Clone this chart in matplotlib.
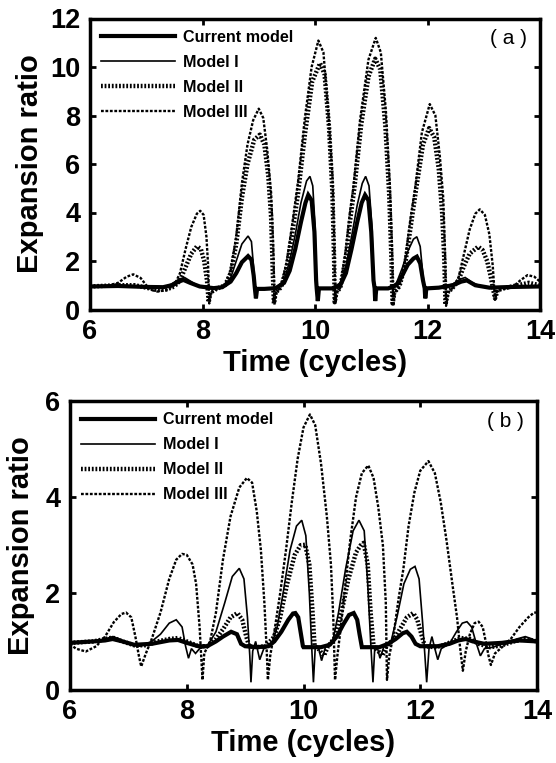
import matplotlib
matplotlib.use("Agg")
import matplotlib.pyplot as plt

plt.rcParams['font.family'] = ['Liberation Sans', 'DejaVu Sans']
plt.rcParams['lines.scale_dashes'] = False

# ---------------- Panel (a) data ----------------
a_cur_t = [6.0, 6.5, 7.0, 7.3, 7.45, 7.58, 7.66, 7.78, 7.95, 8.2, 8.35, 8.5, 8.6, 8.7, 8.81, 8.87, 8.91, 8.93, 8.95, 8.97,
           9.1, 9.3, 9.45, 9.55, 9.65, 9.75, 9.83, 9.88, 9.94, 9.99, 10.02, 10.03, 10.05, 10.07, 10.3, 10.45, 10.55, 10.65,
           10.75, 10.83, 10.89, 10.95, 11.0, 11.04, 11.06, 11.07, 11.09, 11.3, 11.45, 11.55, 11.65, 11.75, 11.81, 11.87,
           11.92, 11.95, 11.96, 11.98, 12.2, 12.45, 12.6, 12.7, 12.85, 13.1, 13.5, 14.0]
a_cur_v = [0.95, 0.97, 0.93, 0.92, 1.0, 1.15, 1.22, 1.1, 0.95, 0.88, 0.92, 1.15, 1.5, 1.95, 2.2, 2.05, 1.4, 0.9, 0.46, 0.85,
           0.85, 0.88, 1.1, 1.6, 2.5, 3.6, 4.4, 4.72, 4.5, 3.2, 1.2, 0.87, 0.35, 0.87, 0.87, 1.0, 1.5, 2.5,
           3.6, 4.4, 4.72, 4.5, 3.2, 1.2, 0.87, 0.35, 0.87, 0.87, 1.0, 1.4, 1.85, 2.1, 2.18, 1.9,
           1.2, 0.87, 0.46, 0.87, 0.9, 1.0, 1.15, 1.2, 1.0, 0.9, 0.93, 0.95]

a_m1_t = [6.0, 6.5, 7.0, 7.3, 7.45, 7.58, 7.68, 7.8, 7.95, 8.2, 8.35, 8.5, 8.6, 8.7, 8.81, 8.87, 8.91, 8.93, 8.95, 8.97,
          9.1, 9.3, 9.45, 9.55, 9.65, 9.75, 9.85, 9.91, 9.96, 10.0, 10.02, 10.03, 10.05, 10.07, 10.3, 10.45, 10.55, 10.65,
          10.75, 10.84, 10.9, 10.96, 11.01, 11.04, 11.06, 11.07, 11.09, 11.3, 11.45, 11.55, 11.65, 11.75, 11.81, 11.87,
          11.92, 11.95, 11.96, 11.98, 12.2, 12.45, 12.58, 12.67, 12.8, 13.0, 13.5, 14.0]
a_m1_v = [0.95, 0.98, 0.92, 0.9, 1.05, 1.25, 1.32, 1.15, 0.93, 0.85, 0.92, 1.3, 2.0, 2.7, 3.03, 2.8, 1.7, 0.9, 0.46, 0.85,
          0.85, 0.88, 1.2, 2.0, 3.1, 4.4, 5.3, 5.49, 5.1, 3.5, 1.3, 0.87, 0.35, 0.87, 0.87, 1.1, 1.8, 3.0,
          4.3, 5.2, 5.49, 5.1, 3.5, 1.3, 0.87, 0.35, 0.87, 0.87, 1.1, 1.7, 2.4, 2.9, 3.0, 2.6,
          1.4, 0.87, 0.46, 0.87, 0.9, 1.05, 1.25, 1.32, 1.1, 0.92, 0.93, 0.95]

a_m2_t = [6.0, 6.5, 6.8, 7.0, 7.2, 7.35, 7.5, 7.6, 7.7, 7.8, 7.9, 7.97, 8.03, 8.08, 8.11, 8.14, 8.25, 8.4, 8.5, 8.6,
          8.7, 8.8, 8.92, 9.02, 9.1, 9.17, 9.22, 9.25, 9.27, 9.3, 9.4, 9.5, 9.6, 9.7, 9.82, 9.95, 10.09, 10.17, 10.25,
          10.31, 10.34, 10.35, 10.38, 10.45, 10.55, 10.62, 10.7, 10.82, 10.95, 11.07, 11.16, 11.25, 11.32, 11.36, 11.38,
          11.41, 11.5, 11.6, 11.7, 11.8, 11.92, 12.03, 12.12, 12.2, 12.26, 12.3, 12.32, 12.36, 12.45, 12.55, 12.65,
          12.75, 12.9, 12.98, 13.06, 13.12, 13.17, 13.2, 13.25, 13.4, 13.6, 13.8, 14.0]
a_m2_v = [0.95, 1.0, 1.0, 0.9, 0.8, 0.82, 0.95, 1.2, 1.75, 2.3, 2.6, 2.5, 2.0, 1.2, 0.3, 0.7, 0.85, 1.0, 1.5, 2.7,
          4.6, 6.0, 7.0, 7.21, 6.8, 5.5, 3.8, 1.5, 0.25, 0.7, 0.92, 1.8, 3.2, 4.8, 7.2, 9.4, 10.16, 9.7, 7.5,
          4.8, 2.0, 0.3, 0.7, 0.9, 2.2, 3.6, 5.0, 7.6, 9.6, 10.34, 9.9, 7.6, 4.7, 2.0, 0.25,
          0.7, 0.95, 1.8, 3.4, 5.0, 6.8, 7.48, 7.1, 5.8, 4.0, 2.0, 0.2, 0.7, 0.9, 1.2, 1.8,
          2.3, 2.59, 2.45, 2.0, 1.4, 0.8, 0.46, 0.8, 0.9, 1.0, 1.1, 1.0]

a_m3_t = [6.0, 6.3, 6.5, 6.65, 6.77, 6.9, 7.0, 7.1, 7.2, 7.35, 7.5, 7.6, 7.7, 7.8, 7.9, 7.96, 8.02, 8.07, 8.1, 8.12,
          8.15, 8.25, 8.4, 8.5, 8.6, 8.7, 8.8, 8.9, 9.0, 9.08, 9.15, 9.22, 9.26, 9.28, 9.31, 9.4, 9.5, 9.6, 9.7, 9.82,
          9.94, 10.06, 10.15, 10.24, 10.31, 10.34, 10.36, 10.39, 10.45, 10.55, 10.62, 10.68, 10.8, 10.95, 11.08, 11.17,
          11.26, 11.33, 11.37, 11.39, 11.42, 11.5, 11.6, 11.7, 11.78, 11.9, 12.04, 12.14, 12.22, 12.28, 12.31, 12.33,
          12.37, 12.45, 12.55, 12.65, 12.75, 12.85, 12.93, 13.02, 13.1, 13.16, 13.2, 13.24, 13.35, 13.5, 13.65, 13.78,
          13.9, 14.0]
a_m3_v = [0.95, 0.97, 1.1, 1.35, 1.45, 1.3, 1.0, 0.8, 0.74, 0.8, 1.0, 1.5, 2.5, 3.4, 3.95, 4.07, 3.9, 3.0, 1.8, 0.25,
          0.7, 0.85, 1.0, 1.6, 3.0, 5.2, 6.8, 7.8, 8.28, 7.9, 6.6, 4.8, 2.5, 0.2, 0.7, 0.95, 2.0, 3.6, 5.3, 7.9,
          10.0, 11.09, 10.6, 8.0, 5.5, 3.0, 0.25, 0.7, 0.9, 2.5, 4.0, 5.0, 7.8, 10.3, 11.2, 10.6,
          8.2, 5.2, 2.5, 0.15, 0.7, 0.95, 2.0, 3.8, 5.0, 7.3, 8.47, 8.0, 6.3, 4.6, 2.5, 0.15,
          0.7, 0.9, 1.3, 2.3, 3.3, 3.95, 4.13, 3.9, 3.1, 1.8, 0.4, 0.8, 0.85, 0.9, 1.2, 1.42,
          1.35, 1.15]

# ---------------- Panel (b) data ----------------
b_cur_t = [6.0, 6.4, 6.6, 6.73, 6.9, 7.1, 7.4, 7.7, 7.85, 8.0, 8.2, 8.35, 8.5, 8.62, 8.76, 8.86, 8.93, 9.0, 9.2, 9.4,
           9.5, 9.62, 9.74, 9.82, 9.86, 9.91, 9.95, 9.99, 10.0, 10.3, 10.45, 10.57, 10.68, 10.78, 10.86, 10.92, 10.96,
           11.0, 11.3, 11.45, 11.58, 11.7, 11.77, 11.85, 11.92, 12.0, 12.3, 12.5, 12.65, 12.78, 12.9, 13.1, 13.4, 13.7, 14.0]
b_cur_v = [0.97, 1.0, 1.02, 1.05, 1.0, 0.93, 0.95, 1.02, 1.03, 0.97, 0.9, 0.9, 1.0, 1.1, 1.2, 1.15, 0.95, 0.9, 0.88, 0.9,
           1.0, 1.2, 1.45, 1.58, 1.59, 1.5, 1.2, 0.9, 0.88, 0.88, 0.93, 1.1, 1.35, 1.55, 1.59, 1.45, 1.15,
           0.88, 0.88, 0.95, 1.05, 1.17, 1.2, 1.1, 0.95, 0.9, 0.9, 0.95, 1.02, 1.05, 1.0, 0.95, 0.97, 1.02, 1.0]

b_m1_t = [6.0, 6.4, 6.6, 6.73, 6.85, 7.0, 7.2, 7.4, 7.55, 7.7, 7.82, 7.92, 7.98, 8.03, 8.08, 8.15, 8.22, 8.35, 8.5, 8.65,
          8.78, 8.9, 8.98, 9.04, 9.08, 9.1, 9.13, 9.18, 9.25, 9.32, 9.45, 9.55, 9.65, 9.77, 9.88, 9.97, 10.04, 10.1,
          10.14, 10.17, 10.2, 10.25, 10.31, 10.38, 10.5, 10.6, 10.72, 10.85, 10.95, 11.04, 11.1, 11.15, 11.19, 11.22,
          11.26, 11.31, 11.38, 11.5, 11.6, 11.72, 11.83, 11.91, 11.98, 12.04, 12.08, 12.11, 12.15, 12.2, 12.25, 12.3,
          12.36, 12.5, 12.62, 12.72, 12.8, 12.88, 12.95, 13.03, 13.1, 13.25, 13.45, 13.65, 13.8, 13.92, 14.0]
b_m1_v = [0.97, 1.0, 1.05, 1.1, 1.05, 0.95, 0.9, 1.0, 1.15, 1.38, 1.45, 1.3, 0.9, 0.65, 0.85, 0.75, 0.85, 0.9, 1.2, 1.8,
          2.35, 2.52, 2.3, 1.5, 0.7, 0.15, 0.8, 1.0, 0.62, 0.85, 0.92, 1.3, 2.0, 2.9, 3.4, 3.52, 3.2, 2.0,
          0.9, 0.15, 0.85, 0.9, 0.6, 0.9, 1.0, 1.6, 2.5, 3.3, 3.52, 3.3, 2.2, 1.0, 0.15, 0.85,
          0.9, 0.65, 0.9, 1.0, 1.5, 2.2, 2.5, 2.56, 2.3, 1.4, 0.7, 0.15, 0.85, 1.1, 0.85, 0.62,
          0.85, 0.95, 1.2, 1.38, 1.41, 1.3, 1.0, 0.7, 0.85, 0.88, 0.97, 1.05, 1.1, 1.05, 1.0]

b_m2_t = [6.0, 6.4, 6.6, 6.73, 6.9, 7.1, 7.3, 7.5, 7.7, 7.85, 8.0, 8.2, 8.35, 8.5, 8.62, 8.75, 8.87, 8.95, 9.02, 9.07,
          9.2, 9.35, 9.5, 9.6, 9.72, 9.85, 9.95, 10.03, 10.1, 10.15, 10.19, 10.25, 10.35, 10.42, 10.55, 10.65, 10.77,
          10.9, 10.98, 11.03, 11.1, 11.15, 11.2, 11.28, 11.35, 11.42, 11.55, 11.65, 11.77, 11.88, 11.95, 12.03, 12.08,
          12.25, 12.4, 12.55, 12.7, 12.85, 13.0, 13.2, 13.4, 13.6, 13.8, 14.0]
b_m2_v = [0.97, 1.0, 1.05, 1.08, 1.0, 0.92, 0.92, 1.0, 1.05, 1.07, 1.0, 0.9, 0.9, 1.05, 1.25, 1.5, 1.59, 1.45, 1.1, 0.9,
          0.88, 0.9, 1.1, 1.5, 2.2, 2.8, 3.0, 3.01, 2.6, 1.7, 0.9, 0.85, 0.7, 0.9, 1.1, 1.6, 2.3,
          2.85, 3.0, 3.05, 2.6, 1.6, 0.9, 0.8, 0.7, 0.9, 1.05, 1.25, 1.5, 1.59, 1.45, 1.1, 0.9,
          0.88, 0.92, 1.0, 1.07, 1.05, 0.95, 0.88, 0.92, 1.0, 1.05, 1.0]

b_m3_t = [6.0, 6.1, 6.27, 6.45, 6.6, 6.75, 6.88, 6.96, 7.05, 7.12, 7.18, 7.22, 7.3, 7.4, 7.55, 7.7, 7.82, 7.92, 8.0, 8.1,
          8.16, 8.22, 8.27, 8.3, 8.4, 8.5, 8.62, 8.75, 8.9, 9.03, 9.12, 9.2, 9.27, 9.33, 9.37, 9.39, 9.43, 9.5, 9.6,
          9.7, 9.8, 9.9, 10.0, 10.11, 10.2, 10.3, 10.4, 10.47, 10.51, 10.54, 10.58, 10.63, 10.7, 10.8, 10.9, 11.0,
          11.11, 11.2, 11.28, 11.36, 11.41, 11.43, 11.47, 11.55, 11.63, 11.71, 11.8, 11.9, 12.0, 12.14, 12.25, 12.35,
          12.45, 12.55, 12.63, 12.68, 12.73, 12.78, 12.85, 12.93, 13.0, 13.07, 13.13, 13.17, 13.21, 13.28, 13.4,
          13.55, 13.7, 13.85, 13.95, 14.0]
b_m3_v = [0.95, 0.85, 0.79, 0.9, 1.1, 1.4, 1.57, 1.6, 1.5, 1.1, 0.7, 0.48, 0.75, 1.05, 1.6, 2.3, 2.7, 2.82, 2.8, 2.6,
          2.2, 1.3, 0.2, 0.75, 1.0, 1.6, 2.7, 3.6, 4.2, 4.4, 4.3, 3.7, 2.9, 1.8, 0.8, 0.2, 0.7, 1.2, 2.0,
          2.9, 3.9, 4.8, 5.45, 5.72, 5.5, 4.7, 3.6, 2.6, 1.5, 0.2, 0.7, 1.2, 2.0, 3.1, 4.0, 4.5,
          4.66, 4.4, 3.8, 3.0, 1.8, 0.2, 0.7, 1.2, 1.9, 2.5, 3.4, 4.1, 4.55, 4.75, 4.5, 3.9,
          3.1, 2.2, 1.5, 0.9, 0.39, 0.8, 1.15, 1.38, 1.41, 1.3, 0.95, 0.7, 0.51, 0.75, 0.88,
          1.05, 1.3, 1.5, 1.6, 1.6]

labels = ['Current model', 'Model I', 'Model II', 'Model III']
x_ticks = [6, 8, 10, 12, 14]
a_yticks = [0, 2, 4, 6, 8, 10, 12]
b_yticks = [0, 2, 4, 6]

W, H = 556, 763
fig = plt.figure(figsize=(W / 100, H / 100), dpi=100)
axA = fig.add_axes([90 / W, 1 - 309.5 / H, 450 / W, 291 / H])
axB = fig.add_axes([70 / W, 1 - 689.5 / H, 467 / W, 288.5 / H])

styles = [
    dict(color='black', lw=3.0, ls='-'),
    dict(color='black', lw=1.2, ls='-'),
    dict(color='black', lw=3.2, ls=(0, (1.3, 1.3))),
    dict(color='black', lw=1.7, ls=(0, (2.0, 1.2))),
]


def draw(ax, series, yticks, ymax, tag, ylabelpad):
    for (t, v), st, lab in zip(series, styles, labels):
        ax.plot(t, v, label=lab, solid_joinstyle='miter', **st)
    ax.set_xlim(6, 14)
    ax.set_ylim(0, ymax)
    ax.set_xticks(x_ticks)
    ax.set_yticks(yticks)
    ax.tick_params(direction='in', length=4, width=2, top=True, right=True,
                   labelsize=19.5)
    ax.tick_params(axis='x', pad=7)
    ax.tick_params(axis='y', pad=7)
    for lab in ax.get_xticklabels() + ax.get_yticklabels():
        lab.set_fontweight('bold')
    for s in ax.spines.values():
        s.set_linewidth(2.5)
    ax.set_xlabel('Time (cycles)', fontsize=21, fontweight='bold', labelpad=3)
    ax.set_ylabel('Expansion ratio', fontsize=21, fontweight='bold', labelpad=ylabelpad)
    ax.legend(loc='upper left', frameon=False, handlelength=4.6,
              prop={'weight': 'bold', 'size': 11.6}, labelspacing=0.62,
              borderaxespad=0.25, borderpad=0.45, handletextpad=0.5)
    ax.text(0.972, 0.93, tag, transform=ax.transAxes, ha='right', va='center',
            fontsize=15)


draw(axA, [(a_cur_t, a_cur_v), (a_m1_t, a_m1_v), (a_m2_t, a_m2_v), (a_m3_t, a_m3_v)],
     a_yticks, 12, '( a )', 4)
draw(axB, [(b_cur_t, b_cur_v), (b_m1_t, b_m1_v), (b_m2_t, b_m2_v), (b_m3_t, b_m3_v)],
     b_yticks, 6, '( b )', 7)

fig.savefig('out.png', dpi=100)
